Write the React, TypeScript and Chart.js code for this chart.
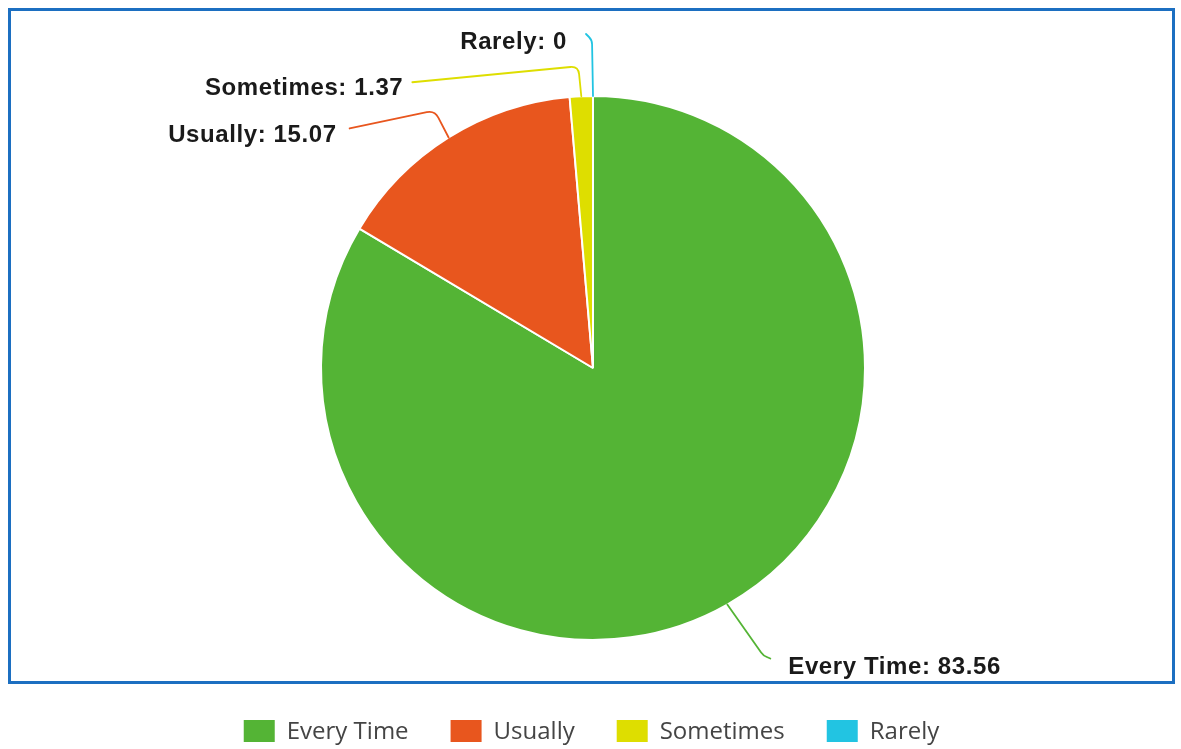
import React, { useEffect, useRef } from "react";
import { Chart, registerables } from "chart.js";

Chart.register(...registerables);

const categories = ["Every Time", "Usually", "Sometimes", "Rarely"];
const values = [83.56, 15.07, 1.37, 0];
const colors = ["#54b435", "#e8561e", "#dede00", "#22c4e2"];

// connector geometry, relative to the slice's outer-edge midpoint
const connectorElbow = [[36, 51], [-14, -27], [-3, -30], [-1, -56]];
const connectorEnd = [[43, 54], [-99, -9], [-169, -14], [-7, -62]];
// text anchor relative to connector end
const textOffset = [[18, 9], [-13, 7], [-9, 6], [-19, 8]];
const textAlign = ["left", "right", "right", "right"];

const LABEL_FONT = "bold 24px 'Liberation Sans'";
const LEGEND_FONT = "24px 'Open Sans'";

const framePlugin = {
  id: "frame",
  beforeDraw(chart: any) {
    const ctx = chart.ctx;
    ctx.save();
    ctx.fillStyle = "#ffffff";
    ctx.fillRect(0, 0, chart.width, chart.height);
    ctx.strokeStyle = "#1c6fc1";
    ctx.lineWidth = 3;
    ctx.strokeRect(9.5, 9.5, 1164, 673);
    ctx.restore();
  },
};

const labelPlugin = {
  id: "pieLabels",
  afterDatasetsDraw(chart: any) {
    const ctx = chart.ctx;
    const meta = chart.getDatasetMeta(0);
    ctx.save();
    meta.data.forEach((arc: any, i: number) => {
      const { x, y, startAngle, endAngle, outerRadius } = arc.getProps(
        ["x", "y", "startAngle", "endAngle", "outerRadius"],
        true
      );
      const mid = (startAngle + endAngle) / 2;
      const ex = x + Math.cos(mid) * outerRadius;
      const ey = y + Math.sin(mid) * outerRadius;
      const bx = ex + connectorElbow[i][0];
      const by = ey + connectorElbow[i][1];
      const cx = ex + connectorEnd[i][0];
      const cy = ey + connectorEnd[i][1];
      const d1 = Math.hypot(bx - ex, by - ey);
      const d2 = Math.hypot(cx - bx, cy - by);
      const r = Math.min(8, d1 / 2, d2 / 2);
      const ax = bx - ((bx - ex) / d1) * r;
      const ay = by - ((by - ey) / d1) * r;
      const qx = bx + ((cx - bx) / d2) * r;
      const qy = by + ((cy - by) / d2) * r;
      ctx.beginPath();
      ctx.moveTo(ex, ey);
      ctx.lineTo(ax, ay);
      ctx.quadraticCurveTo(bx, by, qx, qy);
      ctx.lineTo(cx, cy);
      ctx.strokeStyle = colors[i];
      ctx.lineWidth = 1.8;
      ctx.lineCap = "round";
      ctx.stroke();

      ctx.font = LABEL_FONT;
      (ctx as any).letterSpacing = "0.6px";
      ctx.fillStyle = "#1a1a1a";
      ctx.textAlign = textAlign[i];
      ctx.textBaseline = "middle";
      ctx.fillText(
        `${categories[i]}: ${values[i]}`,
        cx + textOffset[i][0],
        cy + textOffset[i][1]
      );
    });
    ctx.restore();
  },
};

const legendPlugin = {
  id: "customLegend",
  afterDraw(chart: any) {
    const ctx = chart.ctx;
    const labels: string[] = chart.data.labels;
    const bg: string[] = chart.data.datasets[0].backgroundColor;
    ctx.save();
    ctx.font = LEGEND_FONT;
    (ctx as any).letterSpacing = "0px";
    const boxW = 31;
    const boxH = 22;
    const gapText = 12;
    const gapItem = 42;
    const widths = labels.map((l) => boxW + gapText + ctx.measureText(l).width);
    const total = widths.reduce((a, b) => a + b, 0) + gapItem * (labels.length - 1);
    let xx = chart.width / 2 + 1 - total / 2;
    const cy = 731;
    labels.forEach((l, i) => {
      ctx.fillStyle = bg[i];
      ctx.fillRect(xx, cy - boxH / 2, boxW, boxH);
      ctx.fillStyle = "#444444";
      ctx.textAlign = "left";
      ctx.textBaseline = "middle";
      ctx.fillText(l, xx + boxW + gapText, cy + 1);
      xx += widths[i] + gapItem;
    });
    ctx.restore();
  },
};

export default function App() {
  const ref = useRef<HTMLCanvasElement | null>(null);
  useEffect(() => {
    document.body.style.margin = "0";
    let chart: Chart | null = null;
    let cancelled = false;
    const make = () => {
      if (cancelled || !ref.current) return;
      chart = new Chart(ref.current, {
        type: "pie",
        data: {
          labels: categories,
          datasets: [
            {
              data: values,
              backgroundColor: colors,
              borderColor: "#ffffff",
              borderWidth: 2,
            },
          ],
        },
        options: {
          responsive: false,
          animation: false,
          devicePixelRatio: 1,
          radius: 272,
          layout: { padding: { left: 321, right: 316, top: 96, bottom: 109 } },
          plugins: {
            legend: { display: false },
            tooltip: { enabled: false },
          },
        } as any,
        plugins: [framePlugin, labelPlugin, legendPlugin],
      });
    };
    const fonts: any = (document as any).fonts;
    if (fonts && fonts.load) {
      Promise.all([fonts.load(LABEL_FONT), fonts.load(LEGEND_FONT)])
        .catch(() => null)
        .then(make);
    } else {
      make();
    }
    return () => {
      cancelled = true;
      if (chart) chart.destroy();
    };
  }, []);
  return (
    <canvas
      ref={ref}
      width={1181}
      height={749}
      style={{ display: "block", width: 1181, height: 749 }}
    />
  );
}
